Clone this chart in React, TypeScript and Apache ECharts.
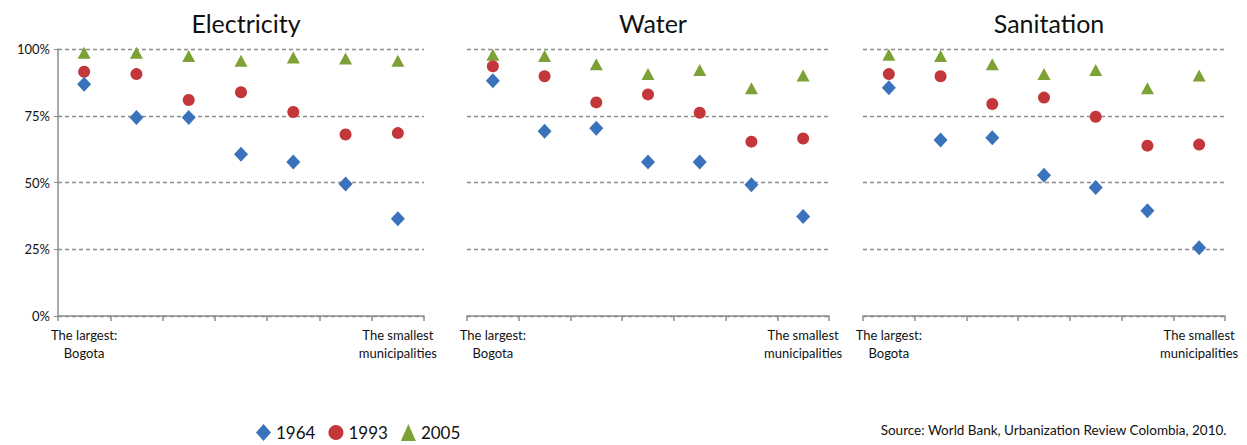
import React, { useEffect, useRef } from "react";
import * as echarts from "echarts";

const categories = ["The largest:\nBogota", "", "", "", "", "", "The smallest\nmunicipalities"];
const panels = ["Electricity", "Water", "Sanitation"];
const years = ["1964", "1993", "2005"];
const yTicks = [0, 0.25, 0.5, 0.75, 1];

const electricity1964 = [0.868, 0.743, 0.743, 0.606, 0.577, 0.494, 0.364];
const electricity1993 = [0.915, 0.906, 0.809, 0.838, 0.764, 0.68, 0.685];
const electricity2005 = [0.986, 0.986, 0.974, 0.956, 0.968, 0.964, 0.956];

const water1964 = [0.881, 0.692, 0.703, 0.577, 0.577, 0.492, 0.373];
const water1993 = [0.935, 0.898, 0.8, 0.83, 0.761, 0.653, 0.665];
const water2005 = [0.978, 0.974, 0.943, 0.906, 0.921, 0.853, 0.901];

const sanitation1964 = [0.855, 0.659, 0.668, 0.527, 0.481, 0.394, 0.256];
const sanitation1993 = [0.906, 0.898, 0.794, 0.818, 0.746, 0.638, 0.642];
const sanitation2005 = [0.978, 0.974, 0.943, 0.906, 0.921, 0.853, 0.901];

const panelData = [
  [electricity1964, electricity1993, electricity2005],
  [water1964, water1993, water2005],
  [sanitation1964, sanitation1993, sanitation2005],
];

const sourceText = "Source: World Bank, Urbanization Review Colombia, 2010.";

const colors = ["#3a72bc", "#c3373a", "#7ca235"];
const symbols = ["diamond", "circle", "triangle"];
const symbolSizes: any[] = [[14, 15], 12, [13, 12]];

const FONT = "Lato, 'Open Sans', sans-serif";

export default function App() {
  const ref = useRef<HTMLDivElement>(null);
  useEffect(() => {
    if (!ref.current) return;
    const chart = echarts.init(ref.current, null, { renderer: "svg" });
    const gridLefts = [58, 467, 863];
    const gridWidths = [366, 362, 362];
    const grid = gridLefts.map((l, i) => ({ left: l, width: gridWidths[i], top: 49, height: 267 }));
    const xAxis = grid.map((_, i) => ({
      type: "category",
      gridIndex: i,
      data: categories,
      boundaryGap: true,
      axisLine: { show: true, lineStyle: { color: "#8c8c8c", width: 1.5 } },
      axisTick: { show: true, length: 5, interval: 0, lineStyle: { color: "#8c8c8c", width: 1.5 } },
      axisLabel: {
        interval: 0,
        margin: 10,
        color: "#111",
        fontSize: 13,
        fontFamily: FONT,
        lineHeight: 18,
        align: "center",
      },
      splitLine: { show: false },
    }));
    const yAxis = grid.map((_, i) => ({
      type: "value",
      gridIndex: i,
      min: 0,
      max: 1,
      interval: 0.25,
      axisLine: { show: i === 0, lineStyle: { color: "#8c8c8c", width: 1.5 } },
      axisTick: { show: i === 0, length: 4, lineStyle: { color: "#8c8c8c" } },
      axisLabel: {
        show: i === 0,
        color: "#111",
        fontSize: 13,
        fontFamily: FONT,
        margin: 8,
        formatter: (v: number) => (yTicks.includes(v) ? Math.round(v * 100) + "%" : ""),
      },
      splitLine: { show: true, lineStyle: { color: "#8c8c8c", type: [4, 3], width: 1.3 } },
    }));
    const series: any[] = [];
    panelData.forEach((sets, p) => {
      sets.forEach((vals, s) => {
        series.push({
          type: "scatter",
          name: years[s],
          xAxisIndex: p,
          yAxisIndex: p,
          symbol: symbols[s],
          symbolSize: symbolSizes[s],
          itemStyle: { color: colors[s], opacity: 1 },
          data: vals,
          z: 3 - s,
        });
      });
    });
    const title = panels.map((t, i) => ({
      text: t,
      left: gridLefts[i] + gridWidths[i] / 2,
      textAlign: "center",
      top: 5,
      textStyle: { fontSize: 25, fontWeight: "normal", color: "#111", fontFamily: FONT },
    }));
    chart.setOption({
      animation: false,
      backgroundColor: "#fff",
      title,
      grid,
      xAxis,
      yAxis,
      series,
      legend: {
        left: 256,
        top: 424,
        padding: 0,
        itemGap: 13,
        itemWidth: 15,
        itemHeight: 17,
        data: years.map((y, i) => ({ name: y, icon: symbols[i], itemStyle: { color: colors[i], opacity: 1 } })),
        textStyle: { fontSize: 17, color: "#111", fontFamily: FONT },
      },
      graphic: [
        {
          type: "text",
          right: 20,
          top: 423,
          style: { text: sourceText, fontSize: 13.5, fill: "#111", fontFamily: FONT },
        },
      ],
    } as any);
    return () => chart.dispose();
  }, []);
  return (
    <div
      ref={ref}
      style={{ position: "fixed", left: 0, top: 0, width: 1247, height: 445, background: "#fff" }}
    />
  );
}
